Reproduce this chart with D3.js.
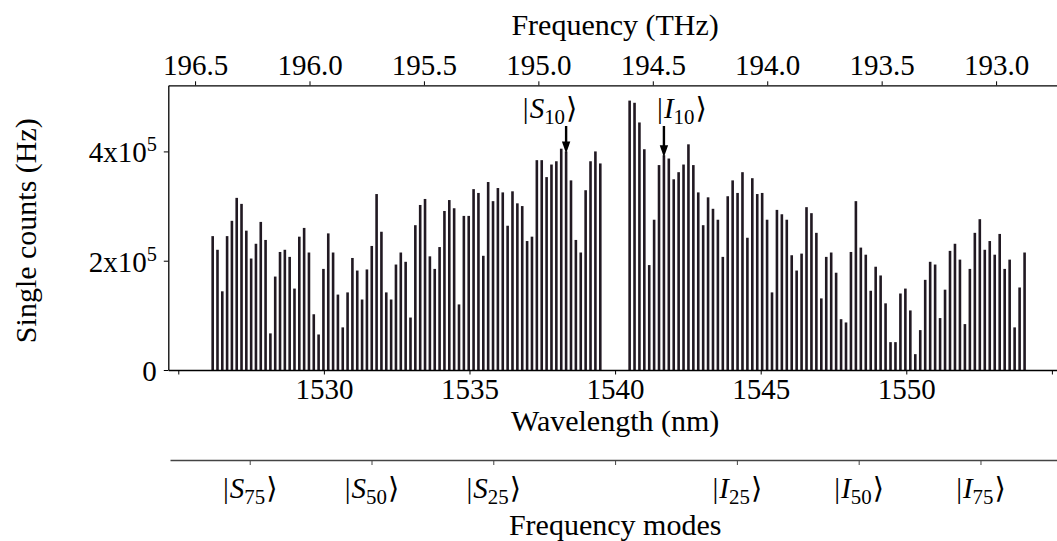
<!DOCTYPE html>
<html>
<head>
<meta charset="utf-8">
<script src="https://cdn.jsdelivr.net/npm/d3@7"></script>
<style>
  html, body { margin: 0; padding: 0; background: #fff; }
  svg { display: block; }
  text { font-family: "Liberation Serif", "DejaVu Serif", serif; fill: #000; }
</style>
</head>
<body>
<svg id="chart" width="1057" height="541"></svg>
<script>
// ---------------- data ----------------
// Single counts in units of 10^5 Hz.
// Signal modes listed left to right (mode 83 ... mode 3)
const signalModes = d3.range(83, 2, -1);
const signalCounts = [
  2.45, 2.20, 1.44, 2.45, 2.73, 3.15, 3.04, 2.55, 2.04, 2.31,
  2.71, 2.38, 0.67, 1.71, 2.16, 2.20, 2.07, 1.49, 2.44, 2.60,
  2.15, 1.02, 0.65, 1.85, 2.50, 2.15, 1.38, 0.78, 1.42, 2.05,
  1.82, 1.29, 1.84, 2.27, 3.22, 2.53, 1.42, 1.29, 1.93, 2.15,
  1.98, 0.96, 2.65, 3.02, 3.13, 2.08, 1.85, 2.25, 2.91, 3.11,
  2.96, 1.20, 2.82, 2.82, 3.31, 3.24, 2.09, 3.44, 3.09, 3.33,
  3.25, 2.64, 3.27, 3.05, 3.00, 2.36, 2.44, 3.84, 3.84, 3.53,
  3.76, 3.82, 4.05, 4.00, 3.47, 2.38, 2.15, 3.29, 3.82, 4.00,
  3.78
];
// Idler modes listed left to right (mode 3 ... mode 83)
const idlerModes = d3.range(3, 84);
const idlerCounts = [
  4.93, 4.89, 4.53, 4.04, 1.92, 2.75, 3.75, 3.93, 3.87, 3.49,
  3.62, 3.76, 4.13, 3.75, 3.25, 2.65, 3.16, 2.95, 2.75, 2.07,
  3.18, 3.47, 3.24, 3.62, 2.42, 3.51, 3.22, 3.24, 2.75, 1.42,
  2.93, 2.85, 2.75, 2.10, 1.82, 2.13, 2.98, 2.87, 2.51, 1.31,
  2.07, 2.15, 1.78, 0.93, 0.87, 2.16, 3.09, 2.24, 2.11, 1.45,
  1.89, 1.73, 1.22, 0.51, 0.51, 1.40, 1.49, 1.09, 0.29, 0.73,
  1.65, 1.98, 1.93, 0.95, 1.47, 2.18, 2.31, 2.02, 0.84, 1.85,
  2.51, 2.76, 2.20, 2.36, 2.11, 2.49, 1.85, 2.02, 0.78, 1.51,
  2.15
];
const centerFreqTHz = 194.671;   // pump frequency
const modeSpacingTHz = 0.02123;  // frequency-mode spacing
const modeSpacingNm = 0.1673;    // nominal mode spacing on the wavelength axis
const centerNm = 1540;

const wavelengthTicks = [1525, 1530, 1535, 1540, 1545, 1550, 1555];
const wavelengthLabels = [1530, 1535, 1540, 1545, 1550];
const frequencyTicks = [196.5, 196.0, 195.5, 195.0, 194.5, 194.0, 193.5, 193.0];
const countTicks = [0, 2, 4];
const modeTicks = [-75, -50, -25, 0, 25, 50, 75];
const markedModes = [{ket: "S", mode: 10, side: "signal"}, {ket: "I", mode: 10, side: "idler"}];

const C = 299792.458; // nm*THz

// ---------------- layout ----------------
const svg = d3.select("#chart");
const L = 168.3, R = 1062, T = 85.3, B = 370;
const FS = 29, FT = 30;

const x = d3.scaleLinear().domain([1524.657, 1555.347]).range([L, R]);
const xf = d3.scaleLinear().domain([196.617, 192.712]).range([L, R]);
const y = d3.scaleLinear().domain([0, 5.21]).range([B, T]);
const modeAt = px => (x.invert(px) - centerNm) / modeSpacingNm;
const xm = d3.scaleLinear().domain([modeAt(170), modeAt(R)]).range([170, R]);

const lamSignal = k => C / (centerFreqTHz + k * modeSpacingTHz);
const lamIdler = k => C / (centerFreqTHz - k * modeSpacingTHz);

const bars = [];
signalModes.forEach((k, i) => bars.push({lam: lamSignal(k), v: signalCounts[i]}));
idlerModes.forEach((k, i) => bars.push({lam: lamIdler(k), v: idlerCounts[i]}));

const bw = 2.6;
svg.append("g").selectAll("rect").data(bars).join("rect")
  .attr("x", d => x(d.lam) - bw / 2)
  .attr("width", bw)
  .attr("y", d => y(d.v))
  .attr("height", d => y(0) - y(d.v))
  .attr("fill", "#211922");

// ---------------- axes ----------------
function styleAxis(g) {
  g.selectAll(".domain").attr("stroke", "#000").attr("stroke-width", 1.3);
  g.selectAll(".tick line").attr("stroke", "#000").attr("stroke-width", 1);
  g.selectAll("text").attr("font-family", '"Liberation Serif", "DejaVu Serif", serif')
    .attr("font-size", FS).attr("fill", "#000");
}

// bottom wavelength axis
const gxb = svg.append("g").attr("transform", `translate(0,${B})`)
  .call(d3.axisBottom(x).tickValues(wavelengthTicks).tickSize(4.5).tickSizeOuter(0).tickPadding(4)
    .tickFormat(d => wavelengthLabels.includes(d) ? d : ""));
styleAxis(gxb);

// top frequency axis
const gxt = svg.append("g").attr("transform", `translate(0,${T})`)
  .call(d3.axisTop(xf).tickValues(frequencyTicks).tickSize(4).tickSizeOuter(0).tickPadding(6)
    .tickFormat(d3.format(".1f")));
styleAxis(gxt);

// left count axis
const gy = svg.append("g").attr("transform", `translate(${L},0)`)
  .call(d3.axisLeft(y).tickValues(countTicks).tickSize(4.5).tickSizeOuter(0).tickPadding(7));
styleAxis(gy);
gy.selectAll(".tick text").each(function(d) {
  const t = d3.select(this).text(null).attr("dy", "0.36em");
  if (d === 0) { t.text("0"); return; }
  t.append("tspan").text(d + "x10");
  t.append("tspan").attr("font-size", FS * 0.7).attr("dy", -11).text("5");
});

// frequency-mode axis
const gm = svg.append("g").attr("transform", `translate(0,460)`)
  .call(d3.axisBottom(xm).tickValues(modeTicks).tickSize(5).tickSizeOuter(0).tickPadding(12));
gm.selectAll(".domain").attr("stroke", "#444").attr("stroke-width", 1.3);
gm.selectAll(".tick line").attr("stroke", "#444").attr("stroke-width", 1);
function ket(t, letter, sub) {
  t.text(null);
  t.append("tspan").text("|");
  t.append("tspan").attr("font-style", "italic").attr("dx", 1).text(letter);
  t.append("tspan").attr("font-size", FS * 0.72).attr("dy", 6).text(sub);
  t.append("tspan").attr("dy", -6).attr("dx", 1).attr("font-family", '"DejaVu Serif", serif')
    .attr("font-size", FS * 1.0).text("\u27E9");
}
gm.selectAll(".tick text").each(function(d) {
  const t = d3.select(this).attr("font-size", FS).attr("fill", "#000")
    .attr("font-family", '"Liberation Serif", "DejaVu Serif", serif');
  if (d === 0) { t.text(""); return; }
  ket(t, d < 0 ? "S" : "I", Math.abs(d));
});

// ---------------- axis titles ----------------
const midX = (L + R) / 2;
svg.append("text").attr("x", midX).attr("y", 35).attr("text-anchor", "middle")
  .attr("font-size", FT).text("Frequency (THz)");
svg.append("text").attr("x", midX).attr("y", 431).attr("text-anchor", "middle")
  .attr("font-size", FT).text("Wavelength (nm)");
svg.append("text").attr("x", midX).attr("y", 535).attr("text-anchor", "middle")
  .attr("font-size", FT).text("Frequency modes");
svg.append("text").attr("transform", `translate(36,${(T + B) / 2 + 3}) rotate(-90)`)
  .attr("text-anchor", "middle").attr("font-size", FT).text("Single counts (Hz)");

// ---------------- annotations ----------------
markedModes.forEach(m => {
  const lam = m.side === "signal" ? lamSignal(m.mode) : lamIdler(m.mode);
  const arr = m.side === "signal" ? signalCounts : idlerCounts;
  const modes = m.side === "signal" ? signalModes : idlerModes;
  const v = arr[modes.indexOf(m.mode)];
  const ax = x(lam);
  const tipY = y(v) + 2;
  const g = svg.append("g");
  g.append("line").attr("x1", ax).attr("x2", ax).attr("y1", 126).attr("y2", tipY - 10)
    .attr("stroke", "#000").attr("stroke-width", 2.4);
  g.append("path").attr("d", `M${ax - 4.2},${tipY - 12} L${ax + 4.2},${tipY - 12} L${ax},${tipY} Z`)
    .attr("fill", "#000");
  const t = g.append("text").attr("x", ax + (m.side === "signal" ? -16 : 18)).attr("y", 118)
    .attr("text-anchor", "middle").attr("font-size", FS);
  ket(t, m.ket, m.mode);
});
</script>
</body>
</html>
